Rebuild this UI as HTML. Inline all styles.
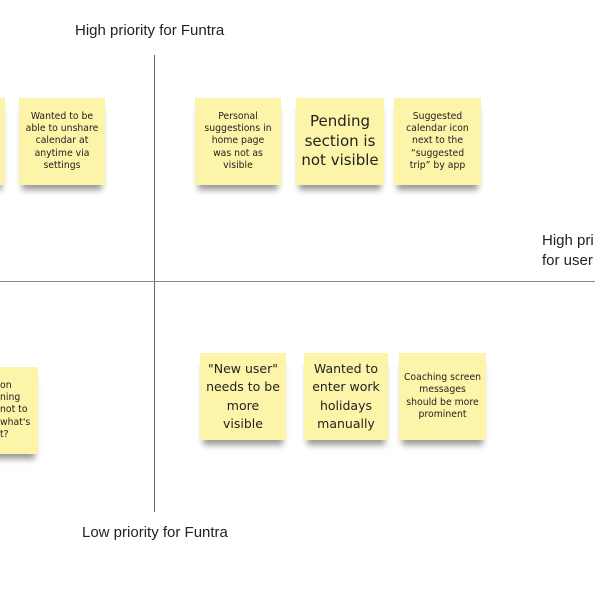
<!DOCTYPE html>
<html><head><meta charset="utf-8"><style>
body{margin:0;width:595px;height:595px;background:#fff;position:relative;overflow:hidden;font-family:"DejaVu Sans","Liberation Sans",sans-serif;color:#222}
.l{position:absolute;font-size:15px;color:#222;white-space:nowrap;font-family:"Liberation Sans",sans-serif}
.s{position:absolute;background:#fcf4a8;box-shadow:0 8px 6px -3px rgba(0,0,0,0.4);display:flex;align-items:center;justify-content:center;text-align:center;line-height:1.32;color:#222}
.t{font-size:9.3px}.b{font-size:12.5px;line-height:1.45}.x{font-size:15px;line-height:1.33}
</style></head><body>
<div style="position:absolute;left:154px;top:55px;width:1px;height:457px;background:#666"></div>
<div style="position:absolute;left:0;top:281px;width:595px;height:1px;background:#888"></div>
<div class="l" style="left:75px;top:22px">High priority for Funtra</div>
<div class="l" style="left:82px;top:524px">Low priority for Funtra</div>
<div class="l" style="left:542px;top:231px;line-height:20px">High pri<br>for user</div>
<div class="s" style="left:-80px;top:98px;width:85px;height:87px"></div>
<div class="s t" style="left:19px;top:98px;width:86px;height:87px">Wanted to be<br>able to unshare<br>calendar at<br>anytime via<br>settings</div>
<div class="s t" style="left:195px;top:98px;width:86px;height:87px">Personal<br>suggestions in<br>home page<br>was not as<br>visible</div>
<div class="s x" style="left:296px;top:98px;width:88px;height:87px">Pending<br>section is<br>not visible</div>
<div class="s t" style="left:394px;top:98px;width:87px;height:87px">Suggested<br>calendar icon<br>next to the<br>“suggested<br>trip” by app</div>
<div class="s t" style="left:-48px;top:367px;width:86px;height:87px;justify-content:flex-start;text-align:left"><span style="padding-left:48px">on<br>ning<br>not to<br>what's<br>t?</span></div>
<div class="s b" style="left:200px;top:353px;width:86px;height:87px">"New user"<br>needs to be<br>more<br>visible</div>
<div class="s b" style="left:304px;top:353px;width:84px;height:87px">Wanted to<br>enter work<br>holidays<br>manually</div>
<div class="s t" style="left:399px;top:353px;width:87px;height:87px">Coaching screen<br>messages<br>should be more<br>prominent</div>
</body></html>
